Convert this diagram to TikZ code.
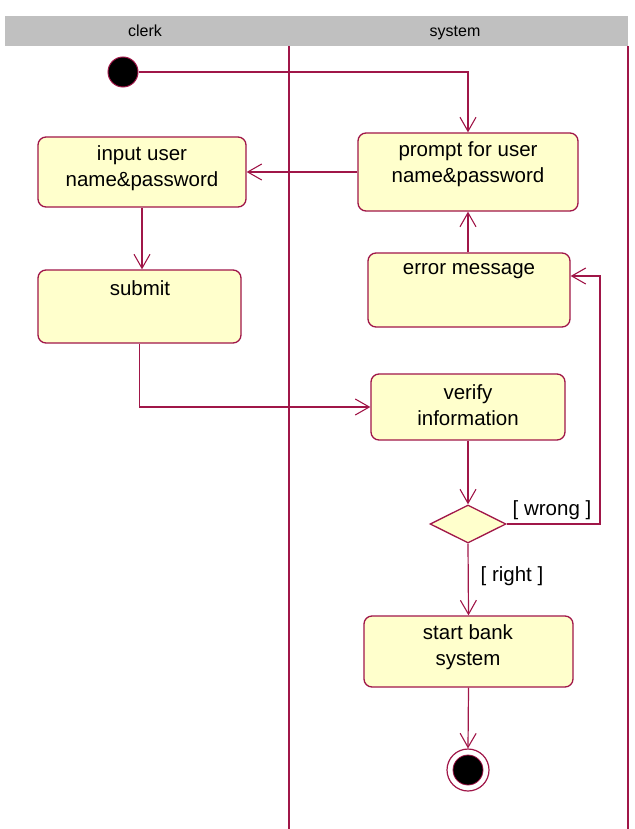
\documentclass[tikz,border=0pt]{standalone}
\usepackage{fontspec}
\setmainfont{Liberation Sans}
\usetikzlibrary{arrows.meta,shapes.geometric}
\definecolor{umlred}{RGB}{160,22,72}
\definecolor{umlfill}{RGB}{255,255,204}
\definecolor{lanegray}{RGB}{192,192,192}
\tikzset{
  act/.style={draw=umlred, fill=umlfill, line width=1.3pt, rounded corners=8pt, inner sep=0pt},
  txt/.style={font=\fontsize{20.5}{26}\selectfont, align=center, inner sep=0pt},
  hdr/.style={font=\fontsize{16}{18}\selectfont, inner sep=0pt, anchor=base},
  flow/.style={draw=umlred, line width=1.2pt, -{Straight Barb[length=14pt,width=16pt,line width=1.1pt]}},
  lane/.style={draw=umlred, line width=1.2pt},
  decision/.style={diamond, draw=umlred, fill=umlfill, line width=1.3pt, inner sep=0pt, minimum width=76pt, minimum height=38pt},
}
\begin{document}
\begin{tikzpicture}[x=1pt,y=-1pt]
\useasboundingbox (0,0) rectangle (634,829);
% swimlanes
\fill[lanegray] (5,16) rectangle (628,46);
\node[hdr] (hclerk) at (145,37) {clerk};
\node[hdr] (hsystem) at (455,37) {system};
\draw[lane] (289,46) -- (289,829);
\draw[lane] (628,46) -- (628,829);
% nodes
\node[circle, fill=black, draw=umlred, line width=1pt, minimum size=30pt, inner sep=0pt] (init) at (123,72) {};
\node[act, minimum width=208pt, minimum height=70pt] (input) at (142,172) {};
\node[txt] (inputt) at (142,168) {input user\\name\&password};
\node[act, minimum width=220pt, minimum height=78pt] (prompt) at (468,172) {};
\node[txt] (promptt) at (468,164) {prompt for user\\name\&password};
\node[act, minimum width=203pt, minimum height=73pt] (submit) at (139.5,306.5) {};
\node[txt] (submitt) at (140,288) {submit};
\node[act, minimum width=202pt, minimum height=74pt] (error) at (469,290) {};
\node[txt] (errort) at (469,271) {error message};
\node[act, minimum width=194pt, minimum height=66pt] (verify) at (468,407) {};
\node[txt] (verifyt) at (468,405) {verify\\information};
\node[decision] (dia) at (468,524) {};
\node[act, minimum width=209pt, minimum height=71pt] (start) at (468.5,651.5) {};
\node[txt] (startt) at (468,647) {start bank\\system};
\node[circle, fill=white, draw=umlred, line width=1.2pt, minimum size=42pt, inner sep=0pt] (final) at (468,770) {};
\node[circle, fill=black, draw=umlred, line width=0.8pt, minimum size=30pt, inner sep=0pt] (finalin) at (468,770) {};
% connectors
\draw[flow] (init.east) -| (prompt.north);
\draw[flow] (prompt.west) -- (input.east);
\draw[flow] (input.south) -- (input.south |- submit.north);
\draw[flow] (submit.south) |- (verify.west);
\draw[flow] (error.north -| prompt.south) -- (prompt.south);
\draw[flow] (verify.south) -- (dia.north);
\coordinate (wr) at (600,276);
\draw[flow] (dia.east) -| (wr) -- (wr -| error.east);
\draw[flow] (dia.south) -- (start.north);
\draw[flow] (start.south) -- (final.north);
% guards
\node[txt] (wrong) at (552,510) {[ wrong ]};
\node[txt] (right) at (512,576) {[ right ]};
\end{tikzpicture}
\end{document}
